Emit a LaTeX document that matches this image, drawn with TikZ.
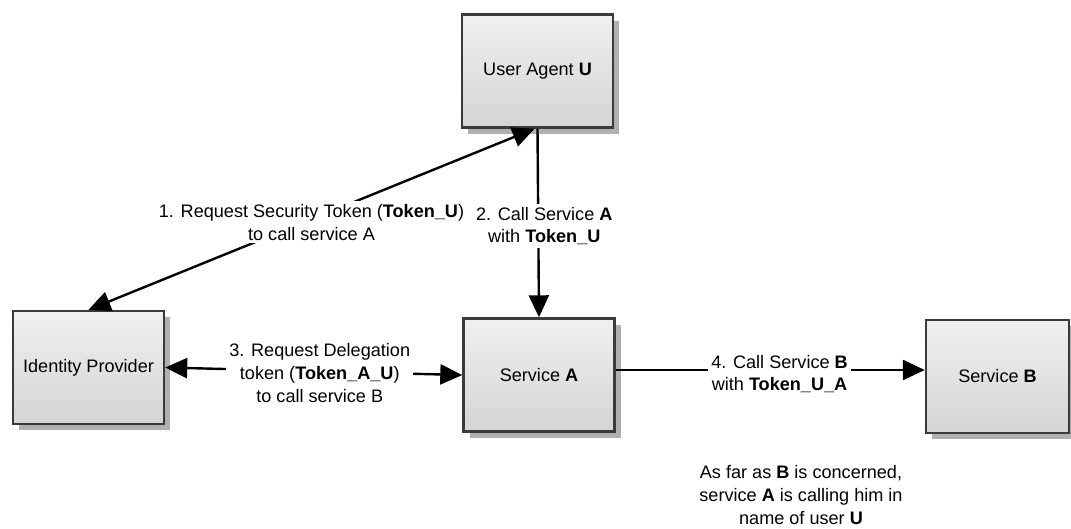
\documentclass[tikz,border=0pt]{standalone}
\usepackage{fontspec}
\setmainfont{Liberation Sans}
\usetikzlibrary{arrows.meta,shadows,calc}

\definecolor{boxedge}{HTML}{3A3A3A}
\definecolor{boxtop}{HTML}{F0F0F0}
\definecolor{boxbottom}{HTML}{D4D4D4}
\definecolor{shadowgray}{HTML}{B0B0B0}

\tikzset{
  block/.style={draw=boxedge, line width=2.4pt, top color=boxtop, bottom color=boxbottom,
    minimum width=151pt, minimum height=113pt, inner sep=0pt, align=center,
    general shadow={fill=shadowgray, shadow xshift=6pt, shadow yshift=-6pt}},
  head/.tip={Triangle[length=22pt,width=20pt]},
  link/.style={line width=2.4pt, -head},
  both/.style={line width=2.4pt, head-head},
  tag/.style={fill=white, inner sep=3pt, align=center},
}

\begin{document}
\begin{tikzpicture}[x=1pt, y=-1pt, font=\fontsize{18.1}{22.8}\selectfont]
  \useasboundingbox (0,0) rectangle (1071,528);

  % actors and services
  \node[block] (UA)  at (537.5,71)  {User Agent \textbf{U}};
  \node[block] (IdP) at (88.5,367.5) {Identity Provider};
  \node[block] (SA)  at (539,375)   {Service \textbf{A}};
  \node[block, minimum width=143pt] (SB) at (997.5,376.5) {Service \textbf{B}};

  % 1. token request
  \draw[both] ([xshift=-3pt]UA.south) -- (IdP.north)
    node[tag, midway, yshift=-3pt] {1. Request Security Token (\textbf{Token\_U})\\to call service A};

  % 2. call service A
  \draw[link] (UA.south) -- (SA.north)
    node[tag, midway, xshift=6pt, yshift=-3pt] {2. Call Service \textbf{A}\\with \textbf{Token\_U}};

  % 3. delegation token
  \draw[both] (IdP.east) -- (SA.west)
    node[tag, midway, xshift=6pt, yshift=-2pt] {3. Request Delegation\\token (\textbf{Token\_A\_U})\\to call service B};

  % 4. call service B
  \draw[link] ([yshift=5pt]SA.east) -- ([yshift=5pt]SA.east -| SB.west)
    node[tag, pos=0.53, yshift=-4pt] {4. Call Service \textbf{B}\\with \textbf{Token\_U\_A}};

  % remark
  \node[tag] (note) at (801,495) {As far as \textbf{B} is concerned,\\service \textbf{A} is calling him in\\name of user \textbf{U}};
\end{tikzpicture}
\end{document}
